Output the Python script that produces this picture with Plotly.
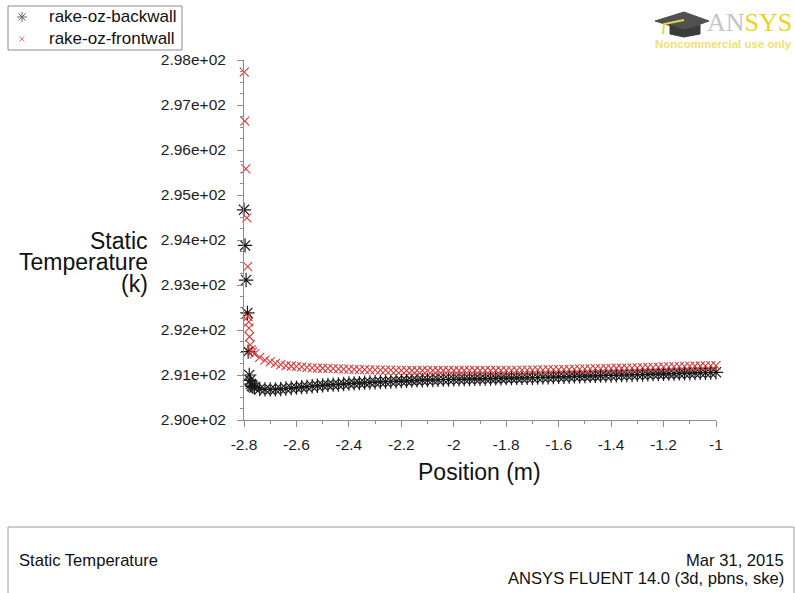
import plotly.graph_objects as go

# ---------------------------------------------------------------- data
# Rake positions (m) shared by both walls away from the inlet
RAKE_POS = [
    -2.76, -2.74, -2.72, -2.70, -2.68, -2.66, -2.64, -2.62, -2.60, -2.58,
    -2.56, -2.54, -2.52, -2.50, -2.48, -2.46, -2.44, -2.42, -2.40, -2.38,
    -2.36, -2.34, -2.32, -2.30, -2.28, -2.26, -2.24, -2.22, -2.20, -2.18,
    -2.16, -2.14, -2.12, -2.10, -2.08, -2.06, -2.04, -2.02, -2.00, -1.98,
    -1.96, -1.94, -1.92, -1.90, -1.88, -1.86, -1.84, -1.82, -1.80, -1.78,
    -1.76, -1.74, -1.72, -1.70, -1.68, -1.66, -1.64, -1.62, -1.60, -1.58,
    -1.56, -1.54, -1.52, -1.50, -1.48, -1.46, -1.44, -1.42, -1.40, -1.38,
    -1.36, -1.34, -1.32, -1.30, -1.28, -1.26, -1.24, -1.22, -1.20, -1.18,
    -1.16, -1.14, -1.12, -1.10, -1.08, -1.06, -1.04, -1.02, -1.00,
]

# Static temperature (K) along the back wall rake
BACK_T = [
    290.72, 290.69, 290.68, 290.68, 290.68, 290.69, 290.70, 290.71, 290.72, 290.73,
    290.74, 290.75, 290.76, 290.77, 290.78, 290.785, 290.79, 290.80, 290.81, 290.815,
    290.82, 290.83, 290.835, 290.84, 290.845, 290.85, 290.855, 290.86, 290.865, 290.87,
    290.875, 290.88, 290.885, 290.89, 290.89, 290.895, 290.90, 290.90, 290.905, 290.905,
    290.91, 290.91, 290.915, 290.915, 290.92, 290.92, 290.925, 290.925, 290.93, 290.93,
    290.935, 290.935, 290.94, 290.94, 290.945, 290.95, 290.95, 290.955, 290.96, 290.96,
    290.965, 290.97, 290.97, 290.975, 290.98, 290.98, 290.985, 290.99, 290.99, 290.995,
    291.00, 291.00, 291.005, 291.01, 291.01, 291.015, 291.02, 291.02, 291.025, 291.03,
    291.03, 291.035, 291.04, 291.04, 291.045, 291.05, 291.05, 291.055, 291.06,
]

# Static temperature (K) along the front wall rake
FRONT_T = [
    291.47, 291.39, 291.33, 291.29, 291.26, 291.23, 291.21, 291.20, 291.19, 291.18,
    291.17, 291.16, 291.155, 291.15, 291.145, 291.14, 291.135, 291.13, 291.13, 291.125,
    291.12, 291.12, 291.115, 291.115, 291.11, 291.11, 291.11, 291.105, 291.105, 291.10,
    291.10, 291.10, 291.10, 291.10, 291.10, 291.10, 291.10, 291.10, 291.10, 291.10,
    291.10, 291.10, 291.10, 291.10, 291.10, 291.10, 291.10, 291.10, 291.105, 291.105,
    291.105, 291.11, 291.11, 291.11, 291.115, 291.115, 291.12, 291.12, 291.12, 291.125,
    291.125, 291.13, 291.13, 291.135, 291.135, 291.14, 291.14, 291.145, 291.145, 291.15,
    291.15, 291.155, 291.16, 291.16, 291.165, 291.17, 291.17, 291.175, 291.18, 291.18,
    291.185, 291.19, 291.19, 291.195, 291.20, 291.20, 291.205, 291.21, 291.21,
]

# Near-inlet samples (steep gradient region)
NEAR_BACK_POS = [-2.800, -2.796, -2.792, -2.787, -2.784, -2.780, -2.777, -2.774, -2.770, -2.766]
NEAR_BACK_T = [294.67, 293.88, 293.11, 292.38, 291.52, 291.00, 290.88, 290.80, 290.76, 290.74]

NEAR_FRONT_POS = [-2.799, -2.797, -2.793, -2.789, -2.786, -2.785, -2.782, -2.781,
                  -2.779, -2.776, -2.772, -2.768]
NEAR_FRONT_T = [297.73, 296.64, 295.58, 294.49, 293.41, 292.30, 292.18, 292.04,
                291.85, 291.67, 291.56, 291.51]

SERIES_NAMES = ["rake-oz-backwall", "rake-oz-frontwall"]

X_TICKS = [-2.8, -2.6, -2.4, -2.2, -2.0, -1.8, -1.6, -1.4, -1.2, -1.0]
X_TICK_TEXT = ["-2.8", "-2.6", "-2.4", "-2.2", "-2", "-1.8", "-1.6", "-1.4", "-1.2", "-1"]
Y_TICKS = [290, 291, 292, 293, 294, 295, 296, 297, 298]
Y_TICK_TEXT = ["2.90e+02", "2.91e+02", "2.92e+02", "2.93e+02", "2.94e+02",
               "2.95e+02", "2.96e+02", "2.97e+02", "2.98e+02"]

# ---------------------------------------------------------------- layout helpers
W, H = 795, 593
L, R, T, B = 244, 716, 60, 420
FONT = "Liberation Sans, Arial, sans-serif"
AXIS_GREY = "#8c8c8c"
BACK_COLOR = "#1a1a1a"
FRONT_COLOR = "#d83c3c"


def px(x):
    return (x - L) / (R - L)


def py(y):
    return (B - y) / (B - T)


fig = go.Figure()

fig.add_trace(go.Scatter(
    x=NEAR_BACK_POS + RAKE_POS, y=NEAR_BACK_T + BACK_T,
    mode="markers", name=SERIES_NAMES[0], cliponaxis=False,
    marker=dict(symbol="asterisk-open", size=12, color=BACK_COLOR,
                line=dict(width=1.2, color=BACK_COLOR)),
))
fig.add_trace(go.Scatter(
    x=NEAR_FRONT_POS + RAKE_POS, y=NEAR_FRONT_T + FRONT_T,
    mode="markers", name=SERIES_NAMES[1], cliponaxis=False,
    marker=dict(symbol="x-thin-open", size=9, color=FRONT_COLOR,
                line=dict(width=1.1, color=FRONT_COLOR)),
))

axis_common = dict(
    showgrid=False, zeroline=False, showline=True, linecolor=AXIS_GREY, linewidth=1,
    ticks="outside", ticklen=6, tickcolor=AXIS_GREY, tickwidth=1,
    tickfont=dict(family=FONT, size=15.5, color="#1e1e1e"),
)

xaxis = dict(
    range=[-2.8, -1.0], autorange=False, tickmode="array",
    tickvals=X_TICKS, ticktext=X_TICK_TEXT,
    minor=dict(dtick=0.1, tick0=-2.8, ticklen=3, ticks="outside", tickcolor=AXIS_GREY),
    ticklabelstandoff=4, **axis_common,
)
yaxis = dict(
    range=[290, 298], autorange=False, tickmode="array",
    tickvals=Y_TICKS, ticktext=Y_TICK_TEXT,
    minor=dict(dtick=0.25, tick0=290, ticklen=3, ticks="outside", tickcolor=AXIS_GREY),
    ticklabelstandoff=8, **axis_common,
)

annotations = []


def text(x, y, s, size, anchor="center", color="#111111", family=FONT):
    annotations.append(dict(
        x=px(x), y=py(y), xref="paper", yref="paper", text=s, showarrow=False,
        xanchor=anchor, yanchor="middle", font=dict(family=family, size=size, color=color),
    ))


# legend labels
text(47, 17, SERIES_NAMES[0], 17, "left")
text(47, 39, SERIES_NAMES[1], 17, "left")

# axis titles
text(150, 241, "Static", 23, "right")
text(150, 262, "Temperature", 23, "right")
text(150, 284, "(k)", 23, "right")
text(479, 472, "Position (m)", 23)

# footer panel
text(17, 560, "Static Temperature", 16.6, "left")
text(786, 560, "Mar 31, 2015", 16.6, "right")
text(786, 578, "ANSYS FLUENT 14.0 (3d, pbns, ske)", 16.6, "right")

# logo text
annotations.append(dict(
    x=px(705), y=py(23), xref="paper", yref="paper", showarrow=False,
    xanchor="left", yanchor="middle",
    text="<span style='color:#c4c4c4'>AN</span><span style='color:#ecd21c'>SYS</span>",
    font=dict(family="Liberation Serif, serif", size=26),
))
text(723, 44, "<b>Noncommercial use only</b>", 11.5, "center", color="#f0e170")


def seg(x0, y0, x1, y1, color, width=1):
    return dict(type="line", xref="paper", yref="paper",
                x0=px(x0), y0=py(y0), x1=px(x1), y1=py(y1),
                line=dict(color=color, width=width))


shapes = [
    # legend frame
    dict(type="rect", xref="paper", yref="paper",
         x0=px(8), x1=px(182), y0=py(6), y1=py(50),
         line=dict(color="#8c8c8c", width=1), fillcolor="rgba(0,0,0,0)"),
    # legend glyph: asterisk
    seg(17, 17, 27, 17, "#666666"),
    seg(22, 12, 22, 22, "#666666"),
    seg(18.5, 13.5, 25.5, 20.5, "#666666"),
    seg(18.5, 20.5, 25.5, 13.5, "#666666"),
    # legend glyph: cross
    seg(19.5, 36.5, 24.5, 41.5, "#e07a7a"),
    seg(19.5, 41.5, 24.5, 36.5, "#e07a7a"),
    # footer frame
    dict(type="rect", xref="paper", yref="paper",
         x0=px(8), x1=px(794), y0=py(527), y1=py(600),
         line=dict(color="#9a9a9a", width=1), fillcolor="rgba(0,0,0,0)"),
    # logo: mortarboard top
    dict(type="path", xref="paper", yref="paper",
         path=f"M {px(655)},{py(21)} L {px(684)},{py(12)} L {px(709)},{py(21)} "
              f"L {px(684)},{py(30)} Z",
         fillcolor="#505050", line=dict(color="#505050", width=1)),
    # logo: cap body
    dict(type="path", xref="paper", yref="paper",
         path=f"M {px(670)},{py(25)} L {px(684)},{py(30)} L {px(700)},{py(25)} "
              f"L {px(700)},{py(34)} L {px(684)},{py(37)} L {px(670)},{py(34)} Z",
         fillcolor="#3c3c3c", line=dict(color="#3c3c3c", width=1)),
    # logo: tassel
    dict(type="path", xref="paper", yref="paper",
         path=f"M {px(684)},{py(20)} L {px(664)},{py(24)} L {px(663)},{py(34)}",
         line=dict(color="#e8d44d", width=2)),
]

fig.update_layout(
    width=W, height=H,
    margin=dict(l=L, r=W - R, t=T, b=H - B, autoexpand=False),
    paper_bgcolor="white", plot_bgcolor="white",
    font=dict(family=FONT, color="#111111"),
    showlegend=False,
    xaxis=xaxis, yaxis=yaxis,
    annotations=annotations,
    shapes=shapes,
)

fig.write_html("out.html")
